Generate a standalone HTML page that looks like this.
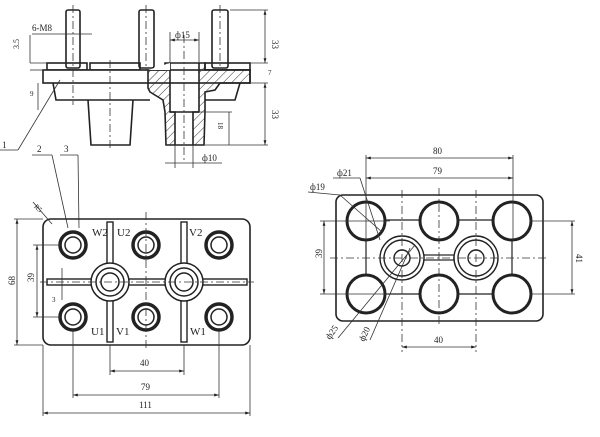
<!DOCTYPE html>
<html><head><meta charset="utf-8"><style>
html,body{margin:0;padding:0;background:#fff;}
svg{display:block;}
text{font-family:"Liberation Serif",serif;fill:#222;}
</style></head><body>
<svg width="600" height="437" viewBox="0 0 600 437" xmlns="http://www.w3.org/2000/svg">
<defs>
<pattern id="h" width="6" height="6" patternUnits="userSpaceOnUse" patternTransform="rotate(45)">
<line x1="0" y1="0" x2="0" y2="6" stroke="#333" stroke-width="1"/></pattern>
<marker id="a" viewBox="0 0 10 10" refX="10" refY="5" markerWidth="6" markerHeight="6" orient="auto-start-reverse"><path d="M0,2L10,5L0,8z" fill="#222"/></marker>
</defs>
<g stroke="#222" fill="none" stroke-width="1.6">
<!-- FRONT VIEW -->
<rect x="66" y="10" width="14" height="58" rx="2" fill="#fff"/>
<rect x="139" y="10" width="15" height="58" rx="2" fill="#fff"/>
<rect x="212" y="10" width="16" height="58" rx="2" fill="#fff"/>
<rect x="47" y="63" width="40" height="7"/>
<rect x="90" y="63" width="50" height="7"/>
<rect x="205" y="63" width="45" height="7"/>
<rect x="43" y="70" width="207" height="13" fill="#fff"/>
<path d="M53,83 L56,100 L150,100 M205,100 L235,100 L240,83"/>
<path d="M88,100 L91,145 L130,145 L133,100"/>
<path fill-rule="evenodd" fill="url(#h)" d="M148,70 L165,70 L165,63 L205,63 L205,70 L250,70 L250,83 L220,83 L215,90 L205,92 L205,112 L204,145 L166,145 L165,112 L163,100 L150,92 L148,88 Z M170,63 L199,63 L199,112 L193,112 L193,145 L175,145 L175,112 L170,112 Z"/>
<path fill="#fff" d="M148,70 L170,70 L170,63" stroke="none"/>
<line x1="170" y1="112" x2="199" y2="112"/>
</g>
<g stroke="#333" stroke-width="0.8" fill="none">
<line x1="73" y1="5" x2="73" y2="105" stroke-dasharray="8,3,2,3"/>
<line x1="146" y1="5" x2="146" y2="70" stroke-dasharray="8,3,2,3"/>
<line x1="220" y1="5" x2="220" y2="70" stroke-dasharray="8,3,2,3"/>
<line x1="184" y1="35" x2="184" y2="160" stroke-dasharray="8,3,2,3"/>
<line x1="110" y1="60" x2="110" y2="150" stroke-dasharray="8,3,2,3"/>
<line x1="230" y1="10" x2="268" y2="10"/><line x1="205" y1="145" x2="268" y2="145"/>
<line x1="250" y1="63" x2="268" y2="63"/><line x1="250" y1="83" x2="268" y2="83"/>
<line x1="265" y1="10" x2="265" y2="63" marker-start="url(#a)" marker-end="url(#a)"/>
<line x1="265" y1="83" x2="265" y2="145" marker-start="url(#a)" marker-end="url(#a)"/>
<line x1="170" y1="32" x2="170" y2="63"/><line x1="199" y1="32" x2="199" y2="63"/>
<line x1="170" y1="40" x2="199" y2="40" marker-start="url(#a)" marker-end="url(#a)"/>
<line x1="175" y1="145" x2="175" y2="168"/><line x1="193" y1="145" x2="193" y2="168"/>
<line x1="165" y1="163" x2="222" y2="163"/>
<line x1="229" y1="112" x2="229" y2="145"/>
<line x1="200" y1="112" x2="232" y2="112"/>
<line x1="32" y1="34" x2="92" y2="34"/>
<line x1="30" y1="63" x2="47" y2="63"/><line x1="30" y1="70" x2="43" y2="70"/>
<line x1="30" y1="35" x2="30" y2="63"/>
<line x1="38" y1="83" x2="38" y2="110"/>
<line x1="60" y1="80" x2="18" y2="150"/><line x1="0" y1="150" x2="18" y2="150"/>
<line x1="32" y1="155" x2="52" y2="155"/><line x1="52" y1="155" x2="68" y2="228"/>
<line x1="60" y1="155" x2="78" y2="155"/><line x1="78" y1="155" x2="79" y2="228"/>
</g>
<g font-size="9">
<text x="32" y="31">6-M8</text>
<text x="175" y="38">ф15</text>
<text x="202" y="161">ф10</text>
<text x="272" y="40" transform="rotate(90 272 40)">33</text>
<text x="272" y="110" transform="rotate(90 272 110)">33</text>
<text x="268" y="75" font-size="7">7</text>
<text x="2" y="148">1</text><text x="37" y="152">2</text><text x="64" y="152">3</text>
<text x="18" y="42" transform="rotate(-90 22 45)" font-size="8">3.5</text>
<text x="30" y="96" font-size="7">9</text>
<text x="222" y="132" font-size="7" transform="rotate(90 225 125)">18</text>
</g>

<!-- BOTTOM-LEFT TOP VIEW -->
<g stroke="#222" fill="none">
<rect x="43" y="219" width="207" height="126" rx="8" stroke-width="1.6"/>
<rect x="47" y="279" width="200" height="6" stroke-width="1.4" fill="#fff"/>
<rect x="107" y="222" width="6" height="120" stroke-width="1.4" fill="#fff"/>
<rect x="181" y="222" width="6" height="120" stroke-width="1.4" fill="#fff"/>
<g stroke-width="3.5">
<circle cx="73" cy="245" r="13"/><circle cx="146" cy="245" r="13"/><circle cx="219" cy="245" r="13"/>
<circle cx="73" cy="317" r="13"/><circle cx="146" cy="317" r="13"/><circle cx="219" cy="317" r="13"/>
</g>
<g stroke-width="1.5">
<circle cx="73" cy="245" r="8"/><circle cx="146" cy="245" r="8"/><circle cx="219" cy="245" r="8"/>
<circle cx="73" cy="317" r="8"/><circle cx="146" cy="317" r="8"/><circle cx="219" cy="317" r="8"/>
<circle cx="110" cy="282" r="19" fill="#fff"/><circle cx="110" cy="282" r="14"/><circle cx="110" cy="282" r="9"/>
<circle cx="184" cy="282" r="19" fill="#fff"/><circle cx="184" cy="282" r="14"/><circle cx="184" cy="282" r="9"/>
</g>
</g>
<g stroke="#333" stroke-width="0.8" fill="none">
<line x1="40" y1="282" x2="254" y2="282" stroke-dasharray="8,3,2,3"/>
<line x1="146" y1="212" x2="146" y2="350" stroke-dasharray="8,3,2,3"/>
<line x1="110" y1="345" x2="110" y2="375"/><line x1="184" y1="345" x2="184" y2="375"/>
<line x1="110" y1="371" x2="184" y2="371" marker-start="url(#a)" marker-end="url(#a)"/>
<line x1="73" y1="330" x2="73" y2="398"/><line x1="219" y1="330" x2="219" y2="398"/>
<line x1="73" y1="395" x2="219" y2="395" marker-start="url(#a)" marker-end="url(#a)"/>
<line x1="43" y1="345" x2="43" y2="416"/><line x1="250" y1="345" x2="250" y2="416"/>
<line x1="43" y1="413" x2="250" y2="413" marker-start="url(#a)" marker-end="url(#a)"/>
<line x1="14" y1="219" x2="43" y2="219"/><line x1="14" y1="345" x2="43" y2="345"/>
<line x1="17" y1="219" x2="17" y2="345" marker-start="url(#a)" marker-end="url(#a)"/>
<line x1="33" y1="245" x2="62" y2="245"/><line x1="33" y1="317" x2="62" y2="317"/>
<line x1="37" y1="245" x2="37" y2="317" marker-start="url(#a)" marker-end="url(#a)"/>
<line x1="62" y1="268" x2="62" y2="300"/>
<line x1="33" y1="202" x2="52" y2="224"/>
</g>
<g font-size="11">
<text x="92" y="236">W2</text><text x="117" y="236">U2</text><text x="189" y="236">V2</text>
<text x="91" y="335">U1</text><text x="116" y="335">V1</text><text x="190" y="335">W1</text>
</g>
<g font-size="9">
<text x="140" y="366">40</text><text x="141" y="390">79</text><text x="139" y="408">111</text>
<text x="12" y="288" transform="rotate(-90 12 285)">68</text>
<text x="31" y="285" transform="rotate(-90 31 282)">39</text>
<text x="52" y="302" font-size="7">3</text>
<text x="35" y="210" font-size="7" transform="rotate(45 38 207)">R5</text>
</g>

<!-- RIGHT VIEW -->
<g stroke="#222" fill="none">
<rect x="336" y="195" width="207" height="126" rx="7" stroke-width="1.6"/>
<g stroke-width="1.2">
<line x1="366" y1="220" x2="512" y2="220"/><line x1="366" y1="294" x2="512" y2="294"/>
<line x1="366" y1="220" x2="366" y2="294"/><line x1="512" y1="220" x2="512" y2="294"/>
<rect x="424" y="255" width="30" height="5"/>
</g>
<g stroke-width="3" fill="#fff">
<circle cx="366" cy="221" r="19"/><circle cx="439" cy="221" r="19"/><circle cx="512" cy="221" r="19"/>
<circle cx="366" cy="294" r="19"/><circle cx="439" cy="294" r="19"/><circle cx="512" cy="294" r="19"/>
</g>
<g stroke-width="1.4" fill="#fff">
<circle cx="402" cy="258" r="22"/><circle cx="402" cy="258" r="18"/><circle cx="402" cy="258" r="8"/>
<circle cx="476" cy="258" r="22"/><circle cx="476" cy="258" r="18"/><circle cx="476" cy="258" r="8"/>
</g>
</g>
<g stroke="#333" stroke-width="0.8" fill="none">
<line x1="330" y1="258" x2="548" y2="258" stroke-dasharray="8,3,2,3"/>
<line x1="439" y1="188" x2="439" y2="325" stroke-dasharray="8,3,2,3"/>
<line x1="402" y1="190" x2="402" y2="352" stroke-dasharray="8,3,2,3"/>
<line x1="476" y1="190" x2="476" y2="352" stroke-dasharray="8,3,2,3"/>
<line x1="320" y1="221" x2="390" y2="221"/><line x1="320" y1="294" x2="390" y2="294"/>
<line x1="324" y1="221" x2="324" y2="294" marker-start="url(#a)" marker-end="url(#a)"/>
<line x1="530" y1="221" x2="575" y2="221"/><line x1="530" y1="294" x2="575" y2="294"/>
<line x1="572" y1="221" x2="572" y2="294" marker-start="url(#a)" marker-end="url(#a)"/>
<line x1="366" y1="155" x2="366" y2="240"/><line x1="513" y1="155" x2="513" y2="240"/>
<line x1="366" y1="158" x2="513" y2="158" marker-start="url(#a)" marker-end="url(#a)"/>
<line x1="366" y1="178" x2="513" y2="178" marker-start="url(#a)" marker-end="url(#a)"/>
<line x1="402" y1="347" x2="476" y2="347" marker-start="url(#a)" marker-end="url(#a)"/>
<line x1="333" y1="178" x2="360" y2="178"/><line x1="360" y1="178" x2="380" y2="240"/>
<line x1="308" y1="192" x2="340" y2="195"/><line x1="340" y1="195" x2="382" y2="232"/>
<line x1="338" y1="338" x2="415" y2="245"/>
<line x1="370" y1="340" x2="410" y2="248"/>
</g>
<g font-size="9">
<text x="433" y="154">80</text><text x="433" y="174">79</text>
<text x="434" y="343">40</text>
<text x="337" y="176">ф21</text><text x="310" y="190">ф19</text>
<text x="318" y="262" transform="rotate(-90 318 258)">39</text>
<text x="576" y="262" transform="rotate(90 580 258)">41</text>
<text x="330" y="340" transform="rotate(-55 330 340)">ф25</text>
<text x="364" y="342" transform="rotate(-65 364 342)">ф20</text>
</g>
</svg>
</body></html>
